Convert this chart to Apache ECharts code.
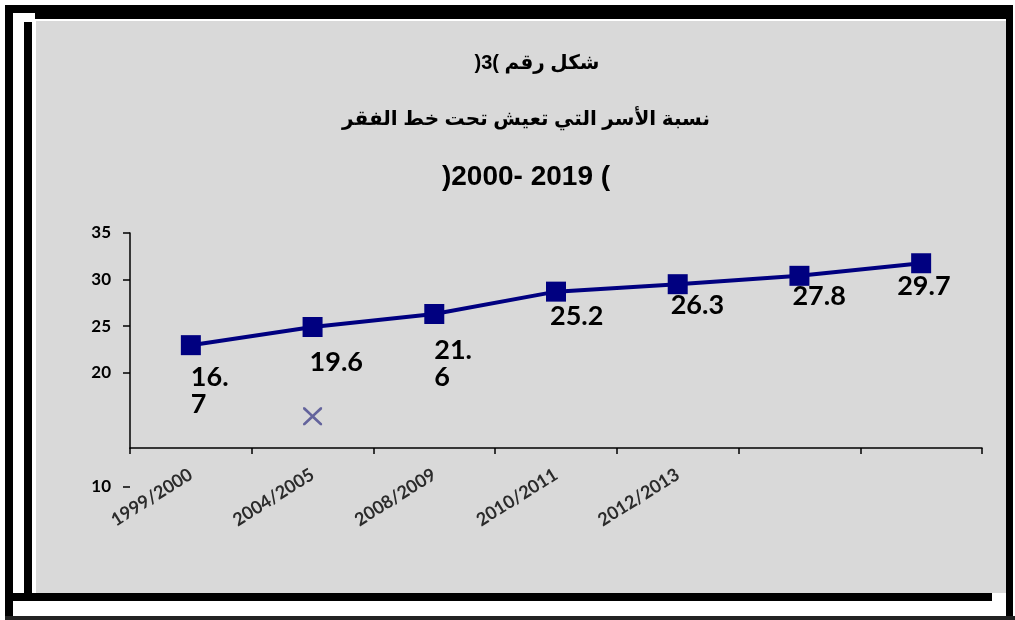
<!DOCTYPE html>
<html dir="ltr">
<head>
<meta charset="utf-8">
<script src="https://cdn.jsdelivr.net/npm/echarts@6/dist/echarts.min.js"></script>
<style>
  html, body { margin: 0; padding: 0; background: #ffffff; }
  #chart { width: 1015px; height: 620px; }
</style>
</head>
<body>
<div id="chart"></div>
<script>
// ---- data ----
const categories = ['1999/2000', '2004/2005', '2008/2009', '2010/2011', '2012/2013', '', ''];
// positions of the squares as drawn against the chart's own y axis
const plottedValues = [22.95, 24.9, 26.3, 28.7, 29.5, 30.4, 31.75];
// the data labels printed next to each square
const dataLabels = ['16.7', '19.6', '21.6', '25.2', '26.3', '27.8', '29.7'];
// stray "x" marker
const strayCategory = '2004/2005';
const strayValue = 15.3;
// y axis tick labels
const yTickLabels = [20, 25, 30, 35];
const yExtraTick = [10];
const titleLine1 = '\u202Bشكل رقم )3(\u202C';
const titleLine2 = 'نسبة الأسر التي تعيش تحت خط الفقر';
const titleLine3 = ')2000- 2019 (';

// ---- styling (label nudges per point, kept apart from the data) ----
const labelNudges = [
  { offset: [0, 9], wrap: true },
  { offset: [-3, 12] },
  { offset: [0, 13], wrap: true },
  { offset: [-6, 1] },
  { offset: [-7, -2] },
  { offset: [-7, -3] },
  { offset: [-24, 0] }
];

const navy = '#000080';
const arabicFont = 'Liberation Sans, DejaVu Sans, sans-serif';
const chart = echarts.init(document.getElementById('chart'), null, { renderer: 'canvas' });

const lineData = plottedValues.map((v, i) => {
  const n = labelNudges[i];
  const lbl = { offset: n.offset };
  if (n.wrap) { lbl.width = 46; lbl.overflow = 'breakAll'; lbl.lineHeight = 27; }
  return { value: v, label: lbl };
});

function titleItem(text, centerX, top, size) {
  return {
    text: text,
    left: centerX,
    textAlign: 'center',
    top: top,
    padding: 0,
    textStyle: { fontFamily: arabicFont, fontWeight: 'bold', fontSize: size, color: '#000' }
  };
}

const option = {
  backgroundColor: '#ffffff',
  animation: false,
  graphic: [
    { type: 'rect', z: -10, shape: { x: 36, y: 21, width: 970, height: 572 }, style: { fill: '#d9d9d9' }, silent: true },
    { type: 'rect', z: -9, shape: { x: 5, y: 5, width: 8, height: 615 }, style: { fill: '#000' }, silent: true },
    { type: 'rect', z: -9, shape: { x: 5, y: 5, width: 1008, height: 8 }, style: { fill: '#000' }, silent: true },
    { type: 'rect', z: -9, shape: { x: 35, y: 12, width: 978, height: 7 }, style: { fill: '#000' }, silent: true },
    { type: 'rect', z: -9, shape: { x: 1006, y: 18, width: 7, height: 602 }, style: { fill: '#000' }, silent: true },
    { type: 'rect', z: -9, shape: { x: 24, y: 22, width: 8, height: 572 }, style: { fill: '#000' }, silent: true },
    { type: 'rect', z: -9, shape: { x: 13, y: 593, width: 979, height: 8 }, style: { fill: '#000' }, silent: true },
    { type: 'rect', z: -9, shape: { x: 5, y: 616, width: 1010, height: 4 }, style: { fill: '#222' }, silent: true }
  ],
  title: [
    titleItem(titleLine1, 537, 53, 20),
    titleItem(titleLine2, 526, 109, 20),
    titleItem(titleLine3, 526, 163, 28)
  ],
  grid: [
    { left: 130, top: 233, right: 33, bottom: 172, containLabel: false },
    { left: 130, top: 477, width: 100, height: 10, containLabel: false }
  ],
  xAxis: [
    {
      type: 'category',
      gridIndex: 0,
      data: categories,
      boundaryGap: true,
      axisLine: { show: true, lineStyle: { color: '#000', width: 1.5 } },
      axisTick: { show: true, length: 6, lineStyle: { color: '#000', width: 1.5 } },
      axisLabel: {
        interval: 0,
        rotate: 32,
        margin: 25,
        fontFamily: 'Lato, sans-serif',
        fontWeight: 'bold',
        fontSize: 18,
        color: '#2b2b2b'
      },
      splitLine: { show: false }
    },
    { type: 'category', gridIndex: 1, data: ['a'], show: false }
  ],
  yAxis: [
    {
      type: 'value',
      gridIndex: 0,
      min: 11.9,
      max: 35,
      axisLine: { show: true, lineStyle: { color: '#000', width: 1.5 } },
      axisTick: { show: true, length: 7, customValues: yTickLabels, lineStyle: { color: '#000', width: 1.5 } },
      axisLabel: {
        customValues: yTickLabels,
        margin: 19,
        fontFamily: 'Lato, sans-serif',
        fontWeight: 'bold',
        fontSize: 17,
        color: '#000'
      },
      splitLine: { show: false }
    },
    {
      type: 'value',
      gridIndex: 1,
      min: 10,
      max: 11,
      axisLine: { show: false },
      axisTick: { show: true, length: 7, customValues: yExtraTick, lineStyle: { color: '#000', width: 1.5 } },
      axisLabel: {
        customValues: yExtraTick,
        margin: 19,
        fontFamily: 'Lato, sans-serif',
        fontWeight: 'bold',
        fontSize: 17,
        color: '#000'
      },
      splitLine: { show: false }
    }
  ],
  series: [
    {
      type: 'line',
      xAxisIndex: 0,
      yAxisIndex: 0,
      data: lineData,
      symbol: 'rect',
      symbolSize: 20,
      lineStyle: { color: navy, width: 4 },
      itemStyle: { color: navy },
      label: {
        show: true,
        position: 'bottom',
        distance: 0,
        align: 'left',
        verticalAlign: 'top',
        fontFamily: 'Lato, sans-serif',
        fontWeight: 'bold',
        fontSize: 27,
        color: '#000',
        formatter: (p) => dataLabels[p.dataIndex]
      },
      z: 3
    },
    {
      type: 'scatter',
      xAxisIndex: 0,
      yAxisIndex: 0,
      data: [[strayCategory, strayValue]],
      symbol: 'path://M0,0 L2,0 L10,8 L18,0 L20,0 L20,2 L12,10 L20,18 L20,20 L18,20 L10,12 L2,20 L0,20 L0,18 L8,10 L0,2 Z',
      symbolSize: [19, 18],
      itemStyle: { color: '#45458c' },
      z: 2
    }
  ]
};

chart.setOption(option);
</script>
</body>
</html>
